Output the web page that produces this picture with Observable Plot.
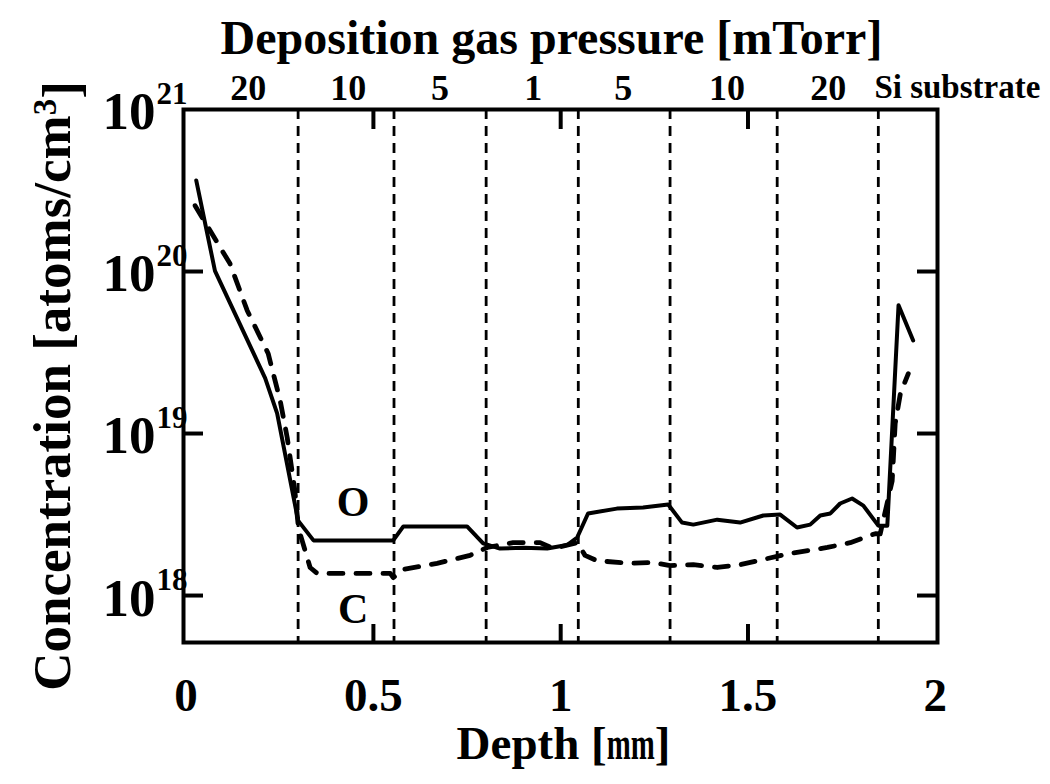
<!DOCTYPE html>
<html>
<head>
<meta charset="utf-8">
<script src="https://cdn.jsdelivr.net/npm/d3@7"></script>
<script src="https://cdn.jsdelivr.net/npm/@observablehq/plot@0.6"></script>
<style>
  html, body { margin: 0; padding: 0; background: #fff; }
  #chart svg { display: block; }
</style>
</head>
<body>
<div id="chart"></div>
<script>
// Oxygen (solid) depth profile
const depthO = [0.027, 0.077, 0.211, 0.243, 0.299, 0.34, 0.553, 0.58, 0.75, 0.793, 0.838, 0.90, 0.964, 1.017, 1.044,
  1.073, 1.15, 1.22, 1.287, 1.324, 1.354, 1.418, 1.479, 1.541, 1.586, 1.631, 1.666, 1.693, 1.72, 1.746, 1.778,
  1.808, 1.848, 1.872, 1.902, 1.941];
const concO = [3.65e20, 1.01e20, 2.2e19, 1.33e19, 2.9e18, 2.19e18, 2.19e18, 2.67e18, 2.67e18, 2.1e18, 1.95e18, 1.97e18, 1.95e18, 2.05e18, 2.28e18,
  3.21e18, 3.44e18, 3.49e18, 3.65e18, 2.82e18, 2.74e18, 2.94e18, 2.82e18, 3.12e18, 3.16e18, 2.63e18, 2.74e18, 3.12e18, 3.21e18, 3.7e18, 3.97e18,
  3.59e18, 2.7e18, 2.7e18, 6.2e19, 3.75e19];

// Carbon (dashed) depth profile
const depthC = [0.024, 0.083, 0.117, 0.163, 0.219, 0.251, 0.27, 0.29, 0.30, 0.331, 0.35, 0.545, 0.553, 0.58, 0.67, 0.758, 0.804,
  0.873, 0.945, 0.98, 1.044, 1.065, 1.097, 1.186, 1.247, 1.292, 1.354, 1.418, 1.479, 1.551, 1.613, 1.712, 1.773, 1.84,
  1.853, 1.885, 1.893, 1.907, 1.928];
const concC = [2.55e20, 1.51e20, 1.12e20, 5.75e19, 3.12e19, 1.6e19, 9.4e18, 4.5e18, 2.6e18, 1.49e18, 1.37e18, 1.37e18, 1.29e18, 1.45e18, 1.58e18, 1.77e18, 1.98e18,
  2.12e18, 2.12e18, 1.95e18, 2.12e18, 1.77e18, 1.64e18, 1.58e18, 1.6e18, 1.53e18, 1.55e18, 1.49e18, 1.55e18, 1.69e18, 1.82e18, 1.98e18, 2.12e18, 2.41e18,
  2.4e18, 5.1e18, 1.15e19, 1.77e19, 2.34e19];

// Layer boundaries and the deposition pressure of each layer
const boundaries = [0.299, 0.555, 0.801, 1.047, 1.292, 1.578, 1.848];
const layerCenters = [0.166, 0.433, 0.678, 0.927, 1.167, 1.444, 1.714];
const layerPressures = ["20", "10", "5", "1", "5", "10", "20"];
const substrateX = [2.059];
const substrateLabel = ["Si substrate"];

// Axis ticks
const xTicks = [0.5, 1, 1.5];
const xTickLabelVals = [0, 0.5, 1, 1.5, 2];
const yTicks = [1e18, 1e19, 1e20];
const yLabelVals = [1e18, 1e19, 1e20, 1e21];

// Curve labels
const curveNames = ["O", "C"];
const curveNameX = [0.446, 0.446];
const curveNameY = [3.75e18, 8.2e17];

const O = depthO.map((d, i) => ({depth: d, conc: concO[i]}));
const C = depthC.map((d, i) => ({depth: d, conc: concC[i]}));
const names = curveNames.map((n, i) => ({name: n, depth: curveNameX[i], conc: curveNameY[i]}));
const pressures = layerPressures.map((p, i) => ({p, depth: layerCenters[i]}));

const W = 1050, H = 784;
const mL = 183, mR = 113, mT = 109, mB = 142;
const iw = W - mL - mR, ih = H - mT - mB;
const FONT = "'Liberation Serif', 'Times New Roman', Times, serif";

const chart = Plot.plot({
  width: W, height: H,
  marginLeft: mL, marginRight: mR, marginTop: mT, marginBottom: mB,
  style: {fontFamily: FONT, fontWeight: "bold", background: "#fff", color: "#000", overflow: "visible"},
  x: {domain: [-0.007, 2.006], axis: null},
  y: {type: "log", domain: [5.13e17, 1e21], axis: null},
  marks: [
    Plot.ruleX(boundaries, {stroke: "#000", strokeWidth: 2.8, strokeDasharray: "10,7"}),
    Plot.line(O, {x: "depth", y: "conc", stroke: "#000", strokeWidth: 4, strokeLinejoin: "round", strokeLinecap: "round"}),
    Plot.line(C, {x: "depth", y: "conc", stroke: "#000", strokeWidth: 4.8, strokeLinejoin: "round", strokeLinecap: "round", strokeDasharray: "14,13"}),
    Plot.frame({stroke: "#000", strokeWidth: 4}),
    // inward ticks on all four sides
    Plot.tickY(yTicks, {y: d => d, insetRight: iw - 20, stroke: "#000", strokeWidth: 4}),
    Plot.tickY(yTicks, {y: d => d, insetLeft: iw - 20, stroke: "#000", strokeWidth: 4}),
    Plot.tickX(xTicks, {x: d => d, insetTop: ih - 18, stroke: "#000", strokeWidth: 4}),
    Plot.tickX(xTicks, {x: d => d, insetBottom: ih - 20, stroke: "#000", strokeWidth: 4}),
    // bottom tick labels
    Plot.text(xTickLabelVals, {x: d => d, text: d => String(d), frameAnchor: "bottom", dy: 68, fontSize: 47, fill: "#000"}),
    // y tick labels as powers of ten
    Plot.text(yLabelVals, {y: d => d, text: () => "10", frameAnchor: "left", textAnchor: "end", dx: -28, dy: 3, fontSize: 53, fill: "#000"}),
    Plot.text(yLabelVals, {y: d => d, text: d => String(Math.round(Math.log10(d))), frameAnchor: "left", textAnchor: "start", dx: -27, dy: -15, fontSize: 31, fill: "#000"}),
    // pressures along the top
    Plot.text(pressures, {x: "depth", text: "p", frameAnchor: "top", dy: -35, fontSize: 36, fill: "#000"}),
    Plot.text(substrateX, {x: d => d, text: (d, i) => substrateLabel[i], frameAnchor: "top", dy: -35, fontSize: 33, fill: "#000"}),
    // curve names
    Plot.text(names, {x: "depth", y: "conc", text: "name", fontSize: 42, fill: "#000"}),
    // titles
    Plot.text(["Deposition gas pressure [mTorr]"], {text: d => d, frameAnchor: "top", dx: -9, dy: -90, fontSize: 48, fill: "#000"}),
    Plot.text(["Depth [mm]"], {text: d => d, frameAnchor: "bottom", dx: 3, dy: 116, fontSize: 47, fill: "#000"}),
    Plot.text(["Concentration [atoms/cm3]"], {text: d => d, frameAnchor: "left", textAnchor: "middle", rotate: -90, dx: -130, dy: 10, fontSize: 53, fill: "#000"})
  ]
});

document.getElementById("chart").appendChild(chart);

// Rich text: superscript in the unit, condensed unit on the depth title
const svg = d3.select(chart);
svg.selectAll("text").filter(function () { return this.textContent === "Concentration [atoms/cm3]"; })
  .each(function () {
    const t = d3.select(this);
    t.text(null);
    t.append("tspan").text("Concentration [atoms/cm");
    t.append("tspan").attr("dy", "-0.45em").attr("font-size", "33").text("3");
    t.append("tspan").attr("dy", "0.45em").text("]");
  });
svg.selectAll("text").filter(function () { return this.textContent === "Depth [mm]"; })
  .each(function () {
    const t = d3.select(this);
    t.text(null);
    t.append("tspan").text("Depth [");
    t.append("tspan").attr("textLength", 48).attr("lengthAdjust", "spacingAndGlyphs").text("mm");
    t.append("tspan").text("]");
  });
</script>
</body>
</html>
